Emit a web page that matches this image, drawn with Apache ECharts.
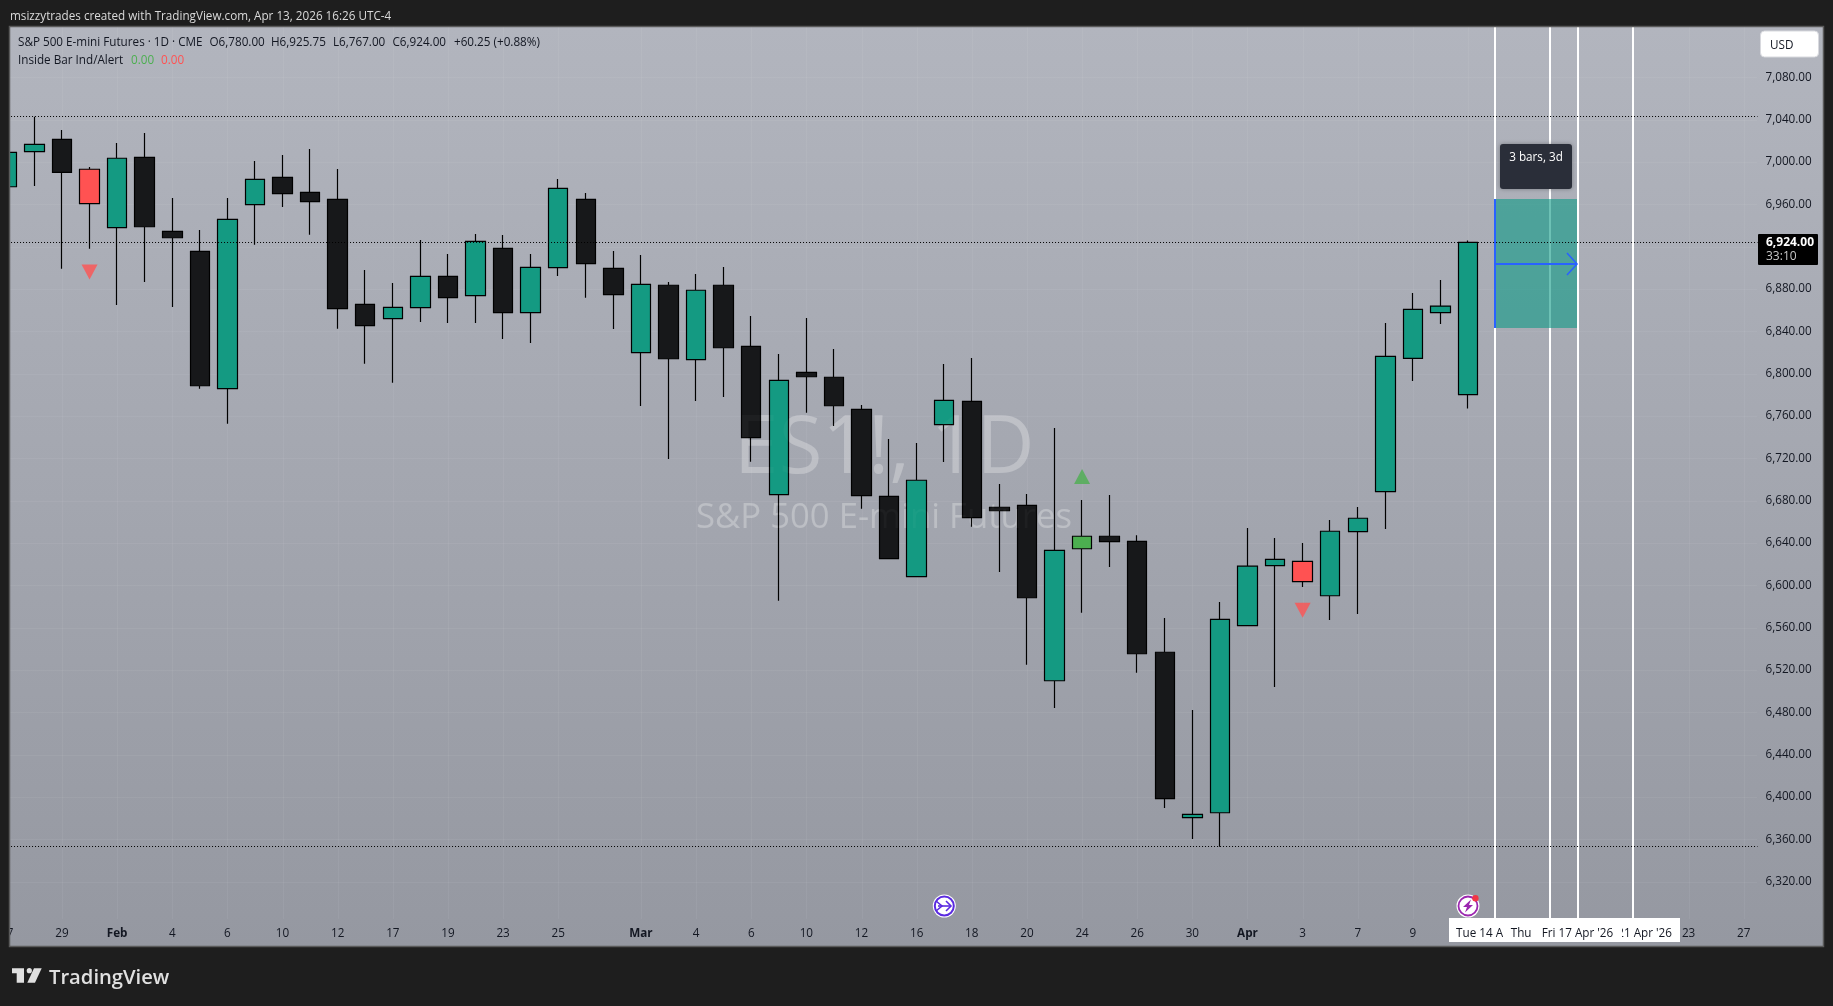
<!DOCTYPE html>
<html><head><meta charset="utf-8">
<style>html,body{margin:0;padding:0;background:#1e1e1e;overflow:hidden}#c{width:1833px;height:1006px}</style>
<script src="https://cdn.jsdelivr.net/npm/echarts@6/dist/echarts.min.js"></script>
</head><body><div id="c"></div>
<script>
// ---- data ----
const dayLabels = ['27','','29','','Feb','','4','','6','','10','','12','','17','','19','','23','','25','','','Mar','','4','','6','','10','','12','','16','','18','','20','','24','','26','','30','','Apr','','3','','7','','9','','13','','','','','','','','23','','27'];
const priceTicks = [7080,7040,7000,6960,6920,6880,6840,6800,6760,6720,6680,6640,6600,6560,6520,6480,6440,6400,6360,6320];
const opens  = [6976.5,7009.6,7021.3,6993,6937.8,7004.3,6934.4,6915.5,6785.7,6959.5,6985.4,6971.2,6964.6,6865.4,6851.8,6862.2,6891.9,6873.6,6918.3,6857.5,6900,6964.6,6899.4,6819.7,6883.4,6813.1,6883.4,6825.7,6685.6,6801.2,6796.5,6766.2,6684,6608.1,6751.7,6773.8,6673.7,6675.5,6509.8,6634.5,6646.3,6641.5,6536.7,6380.4,6385.1,6561.8,6618.5,6622.6,6590.1,6650.6,6688.4,6814.4,6857.5,6780];
const closes = [7009,7016.6,6990.1,6960.5,7003.4,6938.7,6928.3,6788.5,6945.7,6983.5,6969.9,6962.4,6861.3,6845.2,6862.6,6891.9,6871.7,6924.9,6857.5,6900.4,6975,6903.8,6874.5,6884.3,6814,6878.7,6824.4,6739.4,6793.6,6797,6769.6,6684.6,6625.1,6699.2,6774.7,6663.8,6670.4,6588.2,6633,6646.3,6641.2,6535.3,6398.4,6383.6,6567.8,6618,6624.5,6603.4,6651,6663.3,6816.3,6860.7,6863.75,6924];
const lows   = [6970,6977.2,6899.1,6918,6864.8,6886.5,6862.9,6785.7,6752.6,6921.7,6957.3,6931.2,6842.4,6809.3,6791.4,6848.7,6847.8,6847.8,6832.6,6828.9,6892.2,6871.7,6842.1,6769.4,6719.3,6774.1,6777.9,6716.7,6585.4,6763,6750.5,6672.3,6625.1,6608.1,6716.4,6655.3,6612.5,6525,6484,6574.1,6617.3,6517.4,6389.6,6360.3,6353,6561.8,6503.9,6598.4,6567.2,6572.8,6653.1,6793,6846.8,6767];
const highs  = [7015,7042.7,7030.1,6995.1,7017.8,7027.3,6965.8,6935.6,6965.8,7000.8,7006.5,7012.1,6993.2,6897.8,6885.5,6926.2,6912.9,6931.8,6930.9,6912.9,6983.8,6970.6,6915.8,6912,6886.5,6894,6900.7,6854.4,6818.5,6852.5,6823.2,6770.3,6738.2,6734.4,6809,6814.7,6695.7,6686.2,6748.6,6680.5,6685.3,6647.2,6569.1,6482.2,6584.2,6654.1,6644.7,6639.9,6661.7,6673.9,6847.8,6876.1,6888.4,6925.75];
const insideBarDown = [3,47];
const insideBarUp = [39];
const markerDown = [[3,6896],[47,6576.3]];
const markerUp = [[39,6702.7]];
const levelLines = [7042.75,6924,6353];
const dateLines = [54,56,57,59];
const toolRange = [54,57,6965,6843,6903.5];
const FONT = '"Open Sans","Noto Sans",sans-serif';

const TEAL='#149A82', BLACK='#17181A', RED='#FF5252', GREEN='#4CAF50';
const candleData = opens.map((o,i)=>{
  const it={value:[o,closes[i],lows[i],highs[i]]};
  const c = insideBarDown.includes(i)?RED:insideBarUp.includes(i)?GREEN:null;
  if(c) it.itemStyle={color:c,color0:c};
  return it;
});

function txt(x,y,text,fill,size,o){
  o=o||{};
  return {type:'text',x:x,y:y+(o.dy==null?1.5:o.dy),z:o.z||120,silent:true,style:{text:text,fill:fill,font:(o.weight||'normal')+' '+size+'px '+FONT,align:o.align||'left',verticalAlign:'middle',opacity:o.opacity==null?1:o.opacity}};
}
function rect(x,y,w,h,fill,z,r,extra){
  return Object.assign({type:'rect',z:z,silent:true,shape:{x:x,y:y,width:w,height:h,r:r||0},style:{fill:fill}},extra||{});
}
function dateBox(x,w,text,z){
  return [rect(x,918,w,24,'#ffffff',z), txt(x+w/2,932,text,'#131722',11.7,{align:'center',z:z+1})];
}
const FRAME='#1e1e1e';
const SZ=11.7;
const graphics=[
  // pane background
  {type:'rect',z:-10,silent:true,shape:{x:10,y:27,width:1813,height:919},style:{fill:new echarts.graphic.LinearGradient(0,0,0,1,[{offset:0,color:'#B2B5BE'},{offset:1,color:'#9598A1'}])}},
  // watermark behind and faintly over the candles
  txt(734,450,'ES1!, 1D','rgba(255,255,255,0.26)',80,{z:1,dy:0}),
  txt(696,518,'S&P 500 E-mini Futures','rgba(255,255,255,0.26)',34.7,{z:1,dy:0}),
  txt(734,450,'ES1!, 1D','rgba(255,255,255,0.03)',80,{z:50,dy:0}),
  txt(696,518,'S&P 500 E-mini Futures','rgba(255,255,255,0.03)',34.7,{z:50,dy:0}),
  // outer frame
  rect(0,0,1833,26,FRAME,100), rect(0,0,9,1006,FRAME,100), rect(1824,0,9,1006,FRAME,100), rect(0,947,1833,59,FRAME,100),
  {type:'rect',z:101,silent:true,shape:{x:9.5,y:26.5,width:1814,height:920},style:{fill:'none',stroke:'#5a5a5a',lineWidth:1.5}},
  txt(10,15,'msizzytrades created with TradingView.com, Apr 13, 2026 16:26 UTC-4','#dadada',SZ),
  // legend
  txt(18,41.5,'S&P 500 E-mini Futures · 1D · CME','#131722',SZ),
  txt(209.5,41.5,'O6,780.00','#131722',SZ), txt(271,41.5,'H6,925.75','#131722',SZ),
  txt(333,41.5,'L6,767.00','#131722',SZ), txt(392.5,41.5,'C6,924.00','#131722',SZ),
  txt(454,41.5,'+60.25 (+0.88%)','#131722',SZ),
  txt(18,59,'Inside Bar Ind/Alert','#131722',SZ), txt(131,59,'0.00',GREEN,SZ), txt(161,59,'0.00',RED,SZ),
  // USD button
  {type:'rect',z:110,silent:true,shape:{x:1760.5,y:31,width:58,height:26,r:4},style:{fill:'#fff',stroke:'#d8d9de',lineWidth:1}},
  txt(1770,44.5,'USD','#131722',SZ),
  // last price tag
  rect(1758,234,60,31,'#000',110,1),
  txt(1766,241.5,'6,924.00','#ffffff',12,{weight:'bold'}), txt(1766,255.5,'33:10','#c8c8c8',12),
  // measure tooltip
  {type:'rect',z:110,silent:true,shape:{x:1500,y:144,width:72,height:45,r:3},style:{fill:'#2A2E39',shadowBlur:4,shadowColor:'rgba(0,0,0,.3)'}},
  txt(1536,156,'3 bars, 3d','#ffffff',SZ,{align:'center'}),
  // selected-date labels on the time axis
  ...dateBox(1449,92,"Tue 14 Apr '26",60),
  ...dateBox(1503,94,"Thu 16 Apr '26",62),
  ...dateBox(1586,94,"Tue 21 Apr '26",64),
  ...dateBox(1533,89,"Fri 17 Apr '26",66),
  // event icons
  {type:'circle',z:70,silent:true,shape:{cx:944.3,cy:906,r:11.5},style:{fill:'#fff'}},
  {type:'circle',z:71,silent:true,shape:{cx:944.3,cy:906,r:9.5},style:{fill:'#fff',stroke:'#5B2BE0',lineWidth:2}},
  {type:'polyline',z:72,silent:true,shape:{points:[[936,901],[942,906],[936,911]]},style:{fill:'none',stroke:'#5B2BE0',lineWidth:1.6}},
  {type:'polyline',z:72,silent:true,shape:{points:[[938,906],[951,906]]},style:{fill:'none',stroke:'#5B2BE0',lineWidth:1.6}},
  {type:'polyline',z:72,silent:true,shape:{points:[[946,901],[951,906],[946,911]]},style:{fill:'none',stroke:'#5B2BE0',lineWidth:1.6}},
  {type:'circle',z:70,silent:true,shape:{cx:1468,cy:906,r:11.5},style:{fill:'#fff'}},
  {type:'circle',z:71,silent:true,shape:{cx:1468,cy:906,r:9.5},style:{fill:'#fff',stroke:'#9C27B0',lineWidth:1.8}},
  {type:'polygon',z:72,silent:true,shape:{points:[[1471,899.5],[1463,907],[1467,907],[1465,912.5],[1473,905],[1469,905]]},style:{fill:'#9C27B0'}},
  {type:'circle',z:73,silent:true,shape:{cx:1475.4,cy:898.3,r:3.2},style:{fill:'#F23645'}},
  // logo
  {type:'polygon',z:120,silent:true,shape:{points:[[12,968.3],[24,968.3],[24,982.7],[16.7,982.7],[16.7,973.3],[12,973.3]]},style:{fill:'#e0e0e0'}},
  {type:'circle',z:120,silent:true,shape:{cx:29.3,cy:970.7,r:2.6},style:{fill:'#e0e0e0'}},
  {type:'polygon',z:120,silent:true,shape:{points:[[34,968.3],[41.7,968.3],[35,982.7],[27.3,982.7]]},style:{fill:'#e0e0e0'}},
  txt(49,977,'TradingView','#e0e0e0',20.2,{weight:'600'})
];

function lineEl(x1,y1,x2,y2,color,w,extra){
  return Object.assign({type:'line',shape:{x1:x1,y1:y1,x2:x2,y2:y2},style:{stroke:color,lineWidth:w}},extra||{});
}
const chart=echarts.init(document.getElementById('c'),null,{renderer:'canvas'});
chart.setOption({
  animation:false,
  backgroundColor:FRAME,
  graphic:{elements:graphics},
  grid:{left:-6.95,width:1764.48,top:27,height:892,containLabel:false,outerBoundsMode:'none'},
  xAxis:{type:'category',data:dayLabels.map((d,i)=>i+':'+d),boundaryGap:true,
    axisLine:{show:false},axisTick:{show:false},splitLine:{show:false},
    axisLabel:{interval:0,margin:9,color:'#131722',fontSize:SZ,fontFamily:FONT,hideOverlap:false,
      formatter:v=>{const d=v.split(':')[1];return /[A-Z]/.test(d)?'{m|'+d+'}':d;},
      rich:{m:{fontWeight:'bold',fontSize:SZ,fontFamily:FONT,color:'#131722'}}}},
  yAxis:{type:'value',position:'right',min:6284.7,max:7127.4,scale:true,
    axisLine:{show:false},axisTick:{show:false},splitLine:{show:false},
    axisLabel:{customValues:priceTicks,margin:8,color:'#131722',fontSize:SZ,fontFamily:FONT,padding:[0,0,3,0],align:'left',
      formatter:v=>v.toLocaleString('en-US',{minimumFractionDigits:2,maximumFractionDigits:2})}},
  series:[
    {type:'custom',name:'gridlines',z:1,silent:true,clip:false,encode:{x:0,y:1},
     data:dayLabels.map((d,i)=>[i,d?1:0]),
     renderItem:(p,api)=>{
       const cs=p.coordSys,ch=[];
       if(api.value(1)===1){const x=Math.round(api.coord([api.value(0),priceTicks[0]])[0])+.5;ch.push(lineEl(x,cs.y,x,cs.y+cs.height,'rgba(255,255,255,0.055)',1));}
       if(p.dataIndex<priceTicks.length){const y=Math.round(api.coord([0,priceTicks[p.dataIndex]])[1])+.5;ch.push(lineEl(10,y,1757,y,'rgba(255,255,255,0.055)',1));}
       return {type:'group',children:ch};
     }},
    {type:'custom',name:'dateLines',z:1,silent:true,clip:false,encode:{x:0},
     data:dateLines.map(v=>[v]),
     renderItem:(p,api)=>{
       const cs=p.coordSys,x=Math.floor(api.coord([api.value(0),6924])[0]);
       return lineEl(x,cs.y,x,cs.y+cs.height,'#ffffff',2);
     }},
    {type:'custom',name:'barsPattern',z:1,silent:true,clip:false,encode:{x:[0,1],y:[2,3]},
     data:[toolRange],
     renderItem:(p,api)=>{
       const a=api.coord([api.value(0),api.value(2)]),b=api.coord([api.value(1),api.value(3)]),m=api.coord([api.value(0),api.value(4)]);
       const x0=Math.floor(a[0]),x1=Math.floor(b[0]),my=Math.round(m[1]);
       return {type:'group',children:[
         {type:'rect',shape:{x:x0,y:a[1],width:x1-x0-1,height:b[1]-a[1]},style:{fill:'rgba(20,155,135,0.62)'}},
         lineEl(x0,a[1],x0,b[1],'#2962FF',2),
         lineEl(x0,my,x1-1,my,'#2962FF',2),
         {type:'polyline',shape:{points:[[x1-11,my-11],[x1-1,my],[x1-11,my+11]]},style:{fill:'none',stroke:'#2962FF',lineWidth:1.6}}
       ]};
     }},
    {type:'candlestick',name:'ES1!',z:2,barWidth:20,clip:true,data:candleData,
     itemStyle:{color:TEAL,color0:BLACK,borderColor:'#000',borderColor0:'#000',borderColorDoji:'#000',borderWidth:1.2},
     markLine:{silent:true,symbol:'none',animation:false,label:{show:false},
       lineStyle:{color:'#000',type:[1,2],width:1,opacity:1},
       data:levelLines.map(v=>({yAxis:v}))}},
    {type:'scatter',name:'Inside Bar Ind/Alert down',z:3,symbol:'triangle',symbolRotate:180,symbolSize:[16,15],
     itemStyle:{color:RED},data:markerDown},
    {type:'scatter',name:'Inside Bar Ind/Alert up',z:3,symbol:'triangle',symbolSize:[16,15],
     itemStyle:{color:GREEN},data:markerUp}
  ]
});
</script></body></html>
